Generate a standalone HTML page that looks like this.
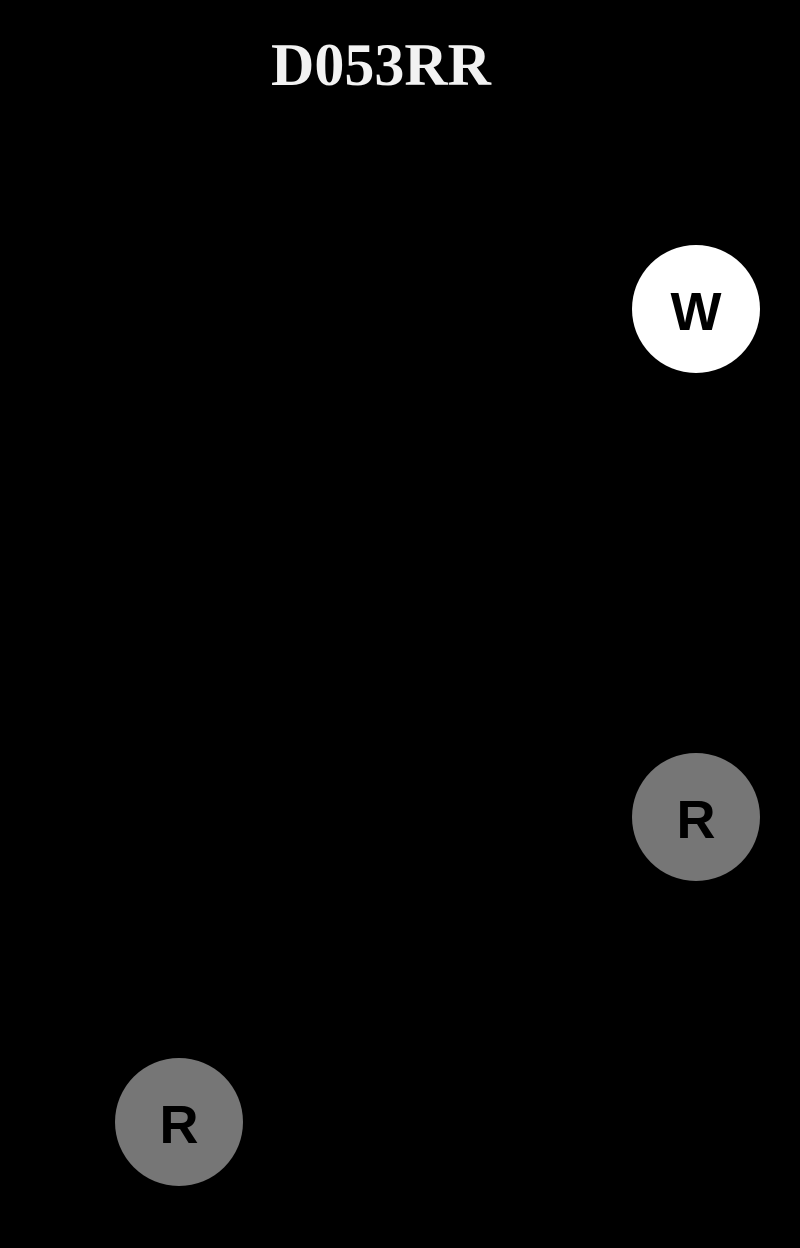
<!DOCTYPE html>
<html><head><style>
html,body{margin:0;padding:0;background:#000;}
body{width:800px;height:1248px;position:relative;overflow:hidden;}
.t{position:absolute;left:0;width:762px;text-align:center;top:31px;font:bold 60px "Liberation Serif",serif;color:#f2f2f2;}
.c{position:absolute;width:128px;height:128px;border-radius:50%;text-align:center;font:bold 54px "Liberation Sans",sans-serif;line-height:134px;color:#000;}
</style></head><body>
<div class="t">D053RR</div>
<div class="c" style="left:632px;top:245px;background:#fff;">W</div>
<div class="c" style="left:632px;top:753px;background:#767676;">R</div>
<div class="c" style="left:115px;top:1058px;background:#767676;">R</div>
</body></html>
